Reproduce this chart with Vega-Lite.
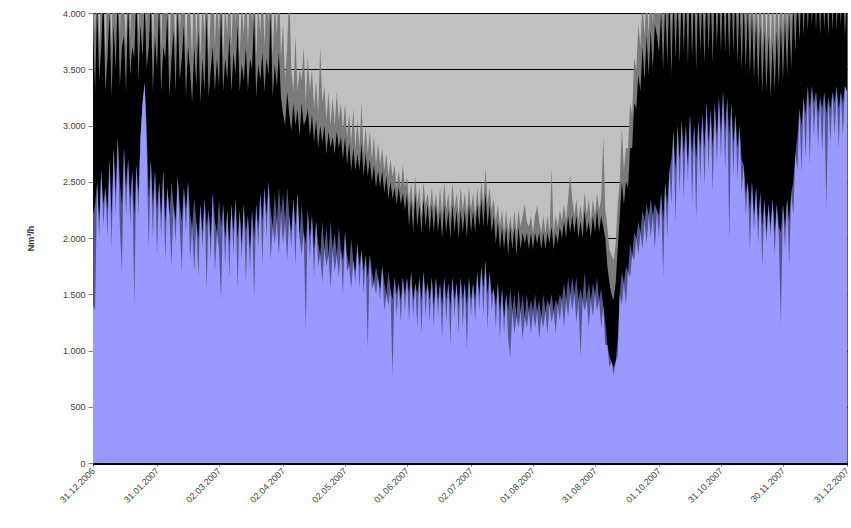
{
"$schema":"https://vega.github.io/schema/vega-lite/v6.json",
"width":754,"height":450,
"autosize":{"type":"none"},
"padding":{"left":93,"top":13,"right":4,"bottom":65},
"background":"white",
"config":{"view":{"fill":"#C0C0C0","stroke":"#606060","strokeWidth":1},"font":"Liberation Sans",
 "axisY":{"values":[0,500,1000,1500,2000,2500,3000,3500,4000],"labelExpr":"replace(format(datum.value, ','), ',', '.')",
  "grid":true,"gridColor":"#000000","gridWidth":1,"domainColor":"#808080","tickColor":"#808080","tickSize":5,
  "labelFontSize":9,"labelColor":"#444444","labelPadding":3,
  "titleFontSize":9,"titleFontWeight":"bold","titleColor":"#333333","titleX":-58,"titleY":225}},
"data":{"values":[
{"t":"2006-12-31","p":4300,"h":3900,"l":2200,"d":1400},
{"t":"2007-01-01","p":3800,"h":3300,"l":2300,"d":1360},
{"t":"2007-01-02","p":4500,"h":4100,"l":2500,"d":2500},
{"t":"2007-01-03","p":3700,"h":3400,"l":2150,"d":2000},
{"t":"2007-01-04","p":4200,"h":3700,"l":2600,"d":2600},
{"t":"2007-01-05","p":4500,"h":4200,"l":2300,"d":2100},
{"t":"2007-01-06","p":3600,"h":3300,"l":2450,"d":2450},
{"t":"2007-01-07","p":4400,"h":3600,"l":2250,"d":2000},
{"t":"2007-01-08","p":4300,"h":4000,"l":2700,"d":2700},
{"t":"2007-01-09","p":3700,"h":3250,"l":2200,"d":1900},
{"t":"2007-01-10","p":4600,"h":3900,"l":2800,"d":2800},
{"t":"2007-01-11","p":3900,"h":3500,"l":2400,"d":2200},
{"t":"2007-01-12","p":4500,"h":4200,"l":2900,"d":2900},
{"t":"2007-01-13","p":3800,"h":3350,"l":2500,"d":2100},
{"t":"2007-01-14","p":4400,"h":3700,"l":2300,"d":1700},
{"t":"2007-01-15","p":4100,"h":3800,"l":2800,"d":2800},
{"t":"2007-01-16","p":3700,"h":3300,"l":2450,"d":2200},
{"t":"2007-01-17","p":4500,"h":4100,"l":2700,"d":2700},
{"t":"2007-01-18","p":3800,"h":3450,"l":2350,"d":2100},
{"t":"2007-01-19","p":4300,"h":3700,"l":2600,"d":2600},
{"t":"2007-01-20","p":4000,"h":3600,"l":2200,"d":1400},
{"t":"2007-01-21","p":4600,"h":4200,"l":2650,"d":2650},
{"t":"2007-01-22","p":3800,"h":3400,"l":2400,"d":2200},
{"t":"2007-01-23","p":4400,"h":3900,"l":2900,"d":2900},
{"t":"2007-01-24","p":4200,"h":3600,"l":3200,"d":3200},
{"t":"2007-01-25","p":4600,"h":4100,"l":3380,"d":3380},
{"t":"2007-01-26","p":3900,"h":3500,"l":3000,"d":2800},
{"t":"2007-01-27","p":4300,"h":3700,"l":2350,"d":1900},
{"t":"2007-01-28","p":4500,"h":4100,"l":2700,"d":2700},
{"t":"2007-01-29","p":3600,"h":3300,"l":2300,"d":2000},
{"t":"2007-01-30","p":4400,"h":3800,"l":2600,"d":2600},
{"t":"2007-01-31","p":3900,"h":3500,"l":2250,"d":1850},
{"t":"2007-02-01","p":4500,"h":4100,"l":2500,"d":2500},
{"t":"2007-02-02","p":3700,"h":3300,"l":2200,"d":2000},
{"t":"2007-02-03","p":4300,"h":3700,"l":2600,"d":2600},
{"t":"2007-02-04","p":4000,"h":3600,"l":2150,"d":1800},
{"t":"2007-02-05","p":4500,"h":4000,"l":2450,"d":2450},
{"t":"2007-02-06","p":3600,"h":3250,"l":2200,"d":2200},
{"t":"2007-02-07","p":4300,"h":3600,"l":2500,"d":1750},
{"t":"2007-02-08","p":4100,"h":3850,"l":2300,"d":2300},
{"t":"2007-02-09","p":3700,"h":3300,"l":2150,"d":1950},
{"t":"2007-02-10","p":4500,"h":4050,"l":2550,"d":2550},
{"t":"2007-02-11","p":3800,"h":3400,"l":2300,"d":2100},
{"t":"2007-02-12","p":4200,"h":3600,"l":2150,"d":1700},
{"t":"2007-02-13","p":4400,"h":3900,"l":2450,"d":2450},
{"t":"2007-02-14","p":3600,"h":3250,"l":2250,"d":2050},
{"t":"2007-02-15","p":4200,"h":3700,"l":2500,"d":2500},
{"t":"2007-02-16","p":4000,"h":3500,"l":2200,"d":1800},
{"t":"2007-02-17","p":3600,"h":3200,"l":2100,"d":2100},
{"t":"2007-02-18","p":4400,"h":3700,"l":2350,"d":1700},
{"t":"2007-02-19","p":3700,"h":3350,"l":2150,"d":2150},
{"t":"2007-02-20","p":4300,"h":3850,"l":2000,"d":1650},
{"t":"2007-02-21","p":3600,"h":3200,"l":2300,"d":2300},
{"t":"2007-02-22","p":4100,"h":3600,"l":2050,"d":1900},
{"t":"2007-02-23","p":3800,"h":3300,"l":2350,"d":2350},
{"t":"2007-02-24","p":4500,"h":4000,"l":2100,"d":1550},
{"t":"2007-02-25","p":3600,"h":3250,"l":2250,"d":2250},
{"t":"2007-02-26","p":4000,"h":3500,"l":2000,"d":1800},
{"t":"2007-02-27","p":4400,"h":3700,"l":2400,"d":2400},
{"t":"2007-02-28","p":3700,"h":3300,"l":2150,"d":1700},
{"t":"2007-03-01","p":4200,"h":3600,"l":2050,"d":2050},
{"t":"2007-03-02","p":3800,"h":3350,"l":2350,"d":1900},
{"t":"2007-03-03","p":4500,"h":4050,"l":2100,"d":1450},
{"t":"2007-03-04","p":3600,"h":3300,"l":2300,"d":2300},
{"t":"2007-03-05","p":4100,"h":3600,"l":2000,"d":1750},
{"t":"2007-03-06","p":3800,"h":3400,"l":2250,"d":2250},
{"t":"2007-03-07","p":4400,"h":3800,"l":1950,"d":1650},
{"t":"2007-03-08","p":3700,"h":3300,"l":2300,"d":2300},
{"t":"2007-03-09","p":4200,"h":3650,"l":2050,"d":1850},
{"t":"2007-03-10","p":3900,"h":3450,"l":2350,"d":2350},
{"t":"2007-03-11","p":4500,"h":3900,"l":2000,"d":1550},
{"t":"2007-03-12","p":3600,"h":3300,"l":2250,"d":2250},
{"t":"2007-03-13","p":4100,"h":3550,"l":1950,"d":1800},
{"t":"2007-03-14","p":3800,"h":3400,"l":2300,"d":2300},
{"t":"2007-03-15","p":4300,"h":3700,"l":2050,"d":1600},
{"t":"2007-03-16","p":3700,"h":3300,"l":2200,"d":2200},
{"t":"2007-03-17","p":4200,"h":3600,"l":1900,"d":1700},
{"t":"2007-03-18","p":3900,"h":3500,"l":2250,"d":2250},
{"t":"2007-03-19","p":4500,"h":4000,"l":2000,"d":1450},
{"t":"2007-03-20","p":3600,"h":3250,"l":2300,"d":2300},
{"t":"2007-03-21","p":4100,"h":3550,"l":2100,"d":1900},
{"t":"2007-03-22","p":3800,"h":3400,"l":2400,"d":2400},
{"t":"2007-03-23","p":4300,"h":3650,"l":2150,"d":1750},
{"t":"2007-03-24","p":3700,"h":3300,"l":2450,"d":2450},
{"t":"2007-03-25","p":4200,"h":3600,"l":2200,"d":2000},
{"t":"2007-03-26","p":3900,"h":3450,"l":2500,"d":2500},
{"t":"2007-03-27","p":4500,"h":4000,"l":2250,"d":1800},
{"t":"2007-03-28","p":3600,"h":3250,"l":2100,"d":2100},
{"t":"2007-03-29","p":4100,"h":3550,"l":2400,"d":1950},
{"t":"2007-03-30","p":3800,"h":3350,"l":2150,"d":2150},
{"t":"2007-03-31","p":4300,"h":3650,"l":2450,"d":1850},
{"t":"2007-04-01","p":3600,"h":3250,"l":2200,"d":2200},
{"t":"2007-04-02","p":3900,"h":3100,"l":2400,"d":1950},
{"t":"2007-04-03","p":3400,"h":3000,"l":2150,"d":2150},
{"t":"2007-04-04","p":3700,"h":3300,"l":2450,"d":1800},
{"t":"2007-04-05","p":4200,"h":3100,"l":2200,"d":2200},
{"t":"2007-04-06","p":3500,"h":2950,"l":2050,"d":1900},
{"t":"2007-04-07","p":3300,"h":3200,"l":2350,"d":2350},
{"t":"2007-04-08","p":3800,"h":3000,"l":2100,"d":1750},
{"t":"2007-04-09","p":3300,"h":3150,"l":2400,"d":2400},
{"t":"2007-04-10","p":3500,"h":2900,"l":2000,"d":2000},
{"t":"2007-04-11","p":3400,"h":3200,"l":2300,"d":1850},
{"t":"2007-04-12","p":3700,"h":3000,"l":2050,"d":2050},
{"t":"2007-04-13","p":3200,"h":3050,"l":1950,"d":1180},
{"t":"2007-04-14","p":3600,"h":3150,"l":2250,"d":2250},
{"t":"2007-04-15","p":3300,"h":2900,"l":2000,"d":1800},
{"t":"2007-04-16","p":3500,"h":3100,"l":2200,"d":2200},
{"t":"2007-04-17","p":3150,"h":2850,"l":1900,"d":1650},
{"t":"2007-04-18","p":3400,"h":3050,"l":2150,"d":2150},
{"t":"2007-04-19","p":3100,"h":2800,"l":1950,"d":1750},
{"t":"2007-04-20","p":3700,"h":3000,"l":1850,"d":1850},
{"t":"2007-04-21","p":3200,"h":2850,"l":2150,"d":1600},
{"t":"2007-04-22","p":3350,"h":3000,"l":1900,"d":1900},
{"t":"2007-04-23","p":3050,"h":2750,"l":2100,"d":1750},
{"t":"2007-04-24","p":3300,"h":2950,"l":1850,"d":1850},
{"t":"2007-04-25","p":3000,"h":2800,"l":2150,"d":1550},
{"t":"2007-04-26","p":3250,"h":2900,"l":1900,"d":1900},
{"t":"2007-04-27","p":3000,"h":2750,"l":2050,"d":1700},
{"t":"2007-04-28","p":3300,"h":2950,"l":1850,"d":1850},
{"t":"2007-04-29","p":3050,"h":2800,"l":2100,"d":1650},
{"t":"2007-04-30","p":3200,"h":2900,"l":1900,"d":1900},
{"t":"2007-05-01","p":2950,"h":2700,"l":1800,"d":1500},
{"t":"2007-05-02","p":3200,"h":2900,"l":2050,"d":2050},
{"t":"2007-05-03","p":2900,"h":2650,"l":1850,"d":1700},
{"t":"2007-05-04","p":3100,"h":2850,"l":1750,"d":1750},
{"t":"2007-05-05","p":2850,"h":2600,"l":2000,"d":1550},
{"t":"2007-05-06","p":3150,"h":2800,"l":1800,"d":1800},
{"t":"2007-05-07","p":2800,"h":2600,"l":1700,"d":1600},
{"t":"2007-05-08","p":3050,"h":2750,"l":1950,"d":1950},
{"t":"2007-05-09","p":2800,"h":2600,"l":1750,"d":1550},
{"t":"2007-05-10","p":3200,"h":2850,"l":1900,"d":1900},
{"t":"2007-05-11","p":2750,"h":2550,"l":1700,"d":1500},
{"t":"2007-05-12","p":3000,"h":2750,"l":1850,"d":1850},
{"t":"2007-05-13","p":2750,"h":2550,"l":1650,"d":1020},
{"t":"2007-05-14","p":2950,"h":2700,"l":1850,"d":1850},
{"t":"2007-05-15","p":2700,"h":2500,"l":1700,"d":1550},
{"t":"2007-05-16","p":2900,"h":2650,"l":1600,"d":1600},
{"t":"2007-05-17","p":2650,"h":2450,"l":1750,"d":1500},
{"t":"2007-05-18","p":2850,"h":2600,"l":1650,"d":1650},
{"t":"2007-05-19","p":2650,"h":2450,"l":1550,"d":1450},
{"t":"2007-05-20","p":2800,"h":2600,"l":1750,"d":1750},
{"t":"2007-05-21","p":2600,"h":2400,"l":1600,"d":1350},
{"t":"2007-05-22","p":2750,"h":2550,"l":1500,"d":1500},
{"t":"2007-05-23","p":2550,"h":2350,"l":1700,"d":1400},
{"t":"2007-05-24","p":2700,"h":2500,"l":1550,"d":1550},
{"t":"2007-05-25","p":2550,"h":2350,"l":1450,"d":765},
{"t":"2007-05-26","p":2650,"h":2450,"l":1650,"d":1650},
{"t":"2007-05-27","p":2450,"h":2300,"l":1500,"d":1300},
{"t":"2007-05-28","p":2600,"h":2450,"l":1600,"d":1600},
{"t":"2007-05-29","p":2450,"h":2300,"l":1450,"d":1250},
{"t":"2007-05-30","p":2650,"h":2400,"l":1650,"d":1650},
{"t":"2007-05-31","p":2450,"h":2250,"l":1500,"d":1350},
{"t":"2007-06-01","p":2550,"h":2400,"l":1650,"d":1650},
{"t":"2007-06-02","p":2300,"h":2100,"l":1500,"d":1250},
{"t":"2007-06-03","p":2500,"h":2350,"l":1700,"d":1700},
{"t":"2007-06-04","p":2250,"h":2050,"l":1450,"d":1300},
{"t":"2007-06-05","p":2550,"h":2400,"l":1600,"d":1600},
{"t":"2007-06-06","p":2300,"h":2100,"l":1500,"d":1200},
{"t":"2007-06-07","p":2450,"h":2300,"l":1650,"d":1650},
{"t":"2007-06-08","p":2200,"h":2050,"l":1450,"d":1150},
{"t":"2007-06-09","p":2500,"h":2350,"l":1700,"d":1700},
{"t":"2007-06-10","p":2300,"h":2100,"l":1500,"d":1300},
{"t":"2007-06-11","p":2400,"h":2300,"l":1600,"d":1600},
{"t":"2007-06-12","p":2250,"h":2050,"l":1450,"d":1250},
{"t":"2007-06-13","p":2450,"h":2300,"l":1650,"d":1650},
{"t":"2007-06-14","p":2250,"h":2050,"l":1400,"d":1200},
{"t":"2007-06-15","p":2400,"h":2300,"l":1650,"d":1650},
{"t":"2007-06-16","p":2200,"h":2050,"l":1450,"d":1300},
{"t":"2007-06-17","p":2450,"h":2250,"l":1600,"d":1600},
{"t":"2007-06-18","p":2200,"h":2000,"l":1400,"d":1100},
{"t":"2007-06-19","p":2500,"h":2300,"l":1650,"d":1650},
{"t":"2007-06-20","p":2250,"h":2050,"l":1450,"d":1250},
{"t":"2007-06-21","p":2400,"h":2250,"l":1600,"d":1600},
{"t":"2007-06-22","p":2200,"h":2000,"l":1400,"d":1050},
{"t":"2007-06-23","p":2500,"h":2300,"l":1650,"d":1650},
{"t":"2007-06-24","p":2250,"h":2050,"l":1450,"d":1300},
{"t":"2007-06-25","p":2400,"h":2250,"l":1600,"d":1600},
{"t":"2007-06-26","p":2200,"h":2000,"l":1400,"d":1150},
{"t":"2007-06-27","p":2450,"h":2250,"l":1650,"d":1650},
{"t":"2007-06-28","p":2250,"h":2050,"l":1450,"d":1200},
{"t":"2007-06-29","p":2400,"h":2250,"l":1600,"d":1600},
{"t":"2007-06-30","p":2200,"h":2000,"l":1400,"d":1000},
{"t":"2007-07-01","p":2450,"h":2300,"l":1650,"d":1650},
{"t":"2007-07-02","p":2250,"h":2050,"l":1450,"d":1300},
{"t":"2007-07-03","p":2400,"h":2250,"l":1600,"d":1600},
{"t":"2007-07-04","p":2200,"h":2050,"l":1450,"d":1250},
{"t":"2007-07-05","p":2450,"h":2300,"l":1700,"d":1700},
{"t":"2007-07-06","p":2250,"h":2100,"l":1500,"d":1350},
{"t":"2007-07-07","p":2500,"h":2350,"l":1750,"d":1750},
{"t":"2007-07-08","p":2300,"h":2100,"l":1550,"d":1300},
{"t":"2007-07-09","p":2620,"h":2400,"l":1800,"d":1800},
{"t":"2007-07-10","p":2300,"h":2100,"l":1500,"d":1180},
{"t":"2007-07-11","p":2450,"h":2300,"l":1700,"d":1700},
{"t":"2007-07-12","p":2250,"h":2050,"l":1500,"d":1350},
{"t":"2007-07-13","p":2350,"h":2200,"l":1550,"d":1550},
{"t":"2007-07-14","p":2150,"h":1950,"l":1400,"d":1200},
{"t":"2007-07-15","p":2300,"h":2150,"l":1600,"d":1600},
{"t":"2007-07-16","p":2100,"h":1900,"l":1350,"d":1100},
{"t":"2007-07-17","p":2250,"h":2100,"l":1550,"d":1550},
{"t":"2007-07-18","p":2050,"h":1900,"l":1300,"d":1150},
{"t":"2007-07-19","p":2250,"h":2100,"l":1500,"d":1500},
{"t":"2007-07-20","p":2050,"h":1850,"l":1350,"d":1100},
{"t":"2007-07-21","p":2200,"h":2100,"l":1550,"d":940},
{"t":"2007-07-22","p":2050,"h":1900,"l":1350,"d":1350},
{"t":"2007-07-23","p":2250,"h":2100,"l":1500,"d":1150},
{"t":"2007-07-24","p":2050,"h":1850,"l":1300,"d":1300},
{"t":"2007-07-25","p":2250,"h":2100,"l":1550,"d":1200},
{"t":"2007-07-26","p":2100,"h":1900,"l":1350,"d":1350},
{"t":"2007-07-27","p":2200,"h":2050,"l":1500,"d":1100},
{"t":"2007-07-28","p":2300,"h":1950,"l":1300,"d":1300},
{"t":"2007-07-29","p":2150,"h":2050,"l":1500,"d":1200},
{"t":"2007-07-30","p":2100,"h":1900,"l":1350,"d":1350},
{"t":"2007-07-31","p":2200,"h":2050,"l":1450,"d":1150},
{"t":"2007-08-01","p":2050,"h":1900,"l":1350,"d":1350},
{"t":"2007-08-02","p":2200,"h":2050,"l":1500,"d":1200},
{"t":"2007-08-03","p":2290,"h":1950,"l":1350,"d":1350},
{"t":"2007-08-04","p":2150,"h":2050,"l":1450,"d":1100},
{"t":"2007-08-05","p":2050,"h":1900,"l":1300,"d":1300},
{"t":"2007-08-06","p":2200,"h":2050,"l":1500,"d":1200},
{"t":"2007-08-07","p":2050,"h":1900,"l":1350,"d":1350},
{"t":"2007-08-08","p":2200,"h":2050,"l":1450,"d":1150},
{"t":"2007-08-09","p":2050,"h":1950,"l":1400,"d":1400},
{"t":"2007-08-10","p":2620,"h":2100,"l":1500,"d":1250},
{"t":"2007-08-11","p":2050,"h":1900,"l":1350,"d":1350},
{"t":"2007-08-12","p":2200,"h":2050,"l":1450,"d":1150},
{"t":"2007-08-13","p":2100,"h":1950,"l":1400,"d":1400},
{"t":"2007-08-14","p":2250,"h":2100,"l":1500,"d":1270},
{"t":"2007-08-15","p":2150,"h":2000,"l":1450,"d":1450},
{"t":"2007-08-16","p":2300,"h":2150,"l":1600,"d":1200},
{"t":"2007-08-17","p":2150,"h":2000,"l":1450,"d":1450},
{"t":"2007-08-18","p":2350,"h":2200,"l":1650,"d":1300},
{"t":"2007-08-19","p":2560,"h":2050,"l":1500,"d":1500},
{"t":"2007-08-20","p":2350,"h":2200,"l":1650,"d":1350},
{"t":"2007-08-21","p":2200,"h":2050,"l":1500,"d":1500},
{"t":"2007-08-22","p":2350,"h":2200,"l":1650,"d":1250},
{"t":"2007-08-23","p":2150,"h":2000,"l":1450,"d":1450},
{"t":"2007-08-24","p":2300,"h":2150,"l":1550,"d":940},
{"t":"2007-08-25","p":2150,"h":2000,"l":1450,"d":1450},
{"t":"2007-08-26","p":2410,"h":2250,"l":1700,"d":1350},
{"t":"2007-08-27","p":2200,"h":2050,"l":1450,"d":1450},
{"t":"2007-08-28","p":2350,"h":2150,"l":1600,"d":1200},
{"t":"2007-08-29","p":2150,"h":2000,"l":1450,"d":1450},
{"t":"2007-08-30","p":2350,"h":2200,"l":1600,"d":1300},
{"t":"2007-08-31","p":2200,"h":2050,"l":1500,"d":1500},
{"t":"2007-09-01","p":2400,"h":2250,"l":1650,"d":1350},
{"t":"2007-09-02","p":2250,"h":2050,"l":1450,"d":1450},
{"t":"2007-09-03","p":2350,"h":2200,"l":1550,"d":1200},
{"t":"2007-09-04","p":2900,"h":2100,"l":1400,"d":1400},
{"t":"2007-09-05","p":2250,"h":2000,"l":1250,"d":1050},
{"t":"2007-09-06","p":2100,"h":1750,"l":1050,"d":1050},
{"t":"2007-09-07","p":1900,"h":1600,"l":950,"d":850},
{"t":"2007-09-08","p":1850,"h":1500,"l":900,"d":900},
{"t":"2007-09-09","p":1800,"h":1450,"l":850,"d":780},
{"t":"2007-09-10","p":1950,"h":1600,"l":900,"d":900},
{"t":"2007-09-11","p":2300,"h":1900,"l":1100,"d":950},
{"t":"2007-09-12","p":2500,"h":2200,"l":1500,"d":1500},
{"t":"2007-09-13","p":2980,"h":2500,"l":1700,"d":1400},
{"t":"2007-09-14","p":2600,"h":2300,"l":1600,"d":1600},
{"t":"2007-09-15","p":2800,"h":2500,"l":1750,"d":1400},
{"t":"2007-09-16","p":2800,"h":2450,"l":1700,"d":1700},
{"t":"2007-09-17","p":3200,"h":2800,"l":1950,"d":1650},
{"t":"2007-09-18","p":3100,"h":2800,"l":1850,"d":1850},
{"t":"2007-09-19","p":3600,"h":3200,"l":2050,"d":1800},
{"t":"2007-09-20","p":3500,"h":3150,"l":2000,"d":2000},
{"t":"2007-09-21","p":3900,"h":3450,"l":2150,"d":1850},
{"t":"2007-09-22","p":3700,"h":3300,"l":2050,"d":2050},
{"t":"2007-09-23","p":4100,"h":3700,"l":2250,"d":1900},
{"t":"2007-09-24","p":3800,"h":3400,"l":2150,"d":2150},
{"t":"2007-09-25","p":4200,"h":3800,"l":2300,"d":1950},
{"t":"2007-09-26","p":3800,"h":3450,"l":2200,"d":2200},
{"t":"2007-09-27","p":4300,"h":3850,"l":2350,"d":2000},
{"t":"2007-09-28","p":3900,"h":3500,"l":2200,"d":2200},
{"t":"2007-09-29","p":4300,"h":3900,"l":2300,"d":1900},
{"t":"2007-09-30","p":4100,"h":3800,"l":2250,"d":2250},
{"t":"2007-10-01","p":4200,"h":3650,"l":2200,"d":2000},
{"t":"2007-10-02","p":4500,"h":4000,"l":2400,"d":2400},
{"t":"2007-10-03","p":3900,"h":3500,"l":2150,"d":1650},
{"t":"2007-10-04","p":4600,"h":4100,"l":2500,"d":2500},
{"t":"2007-10-05","p":4000,"h":3550,"l":2300,"d":2000},
{"t":"2007-10-06","p":4500,"h":4200,"l":2600,"d":2600},
{"t":"2007-10-07","p":3900,"h":3450,"l":2700,"d":2300},
{"t":"2007-10-08","p":4700,"h":4200,"l":2950,"d":2950},
{"t":"2007-10-09","p":4000,"h":3600,"l":2600,"d":2130},
{"t":"2007-10-10","p":4600,"h":4150,"l":3000,"d":3000},
{"t":"2007-10-11","p":3900,"h":3550,"l":2700,"d":2400},
{"t":"2007-10-12","p":4700,"h":4250,"l":3050,"d":3050},
{"t":"2007-10-13","p":4100,"h":3650,"l":2750,"d":2340},
{"t":"2007-10-14","p":4600,"h":4200,"l":3000,"d":3000},
{"t":"2007-10-15","p":3950,"h":3550,"l":2650,"d":2500},
{"t":"2007-10-16","p":4700,"h":4300,"l":3100,"d":3100},
{"t":"2007-10-17","p":4000,"h":3600,"l":2750,"d":2300},
{"t":"2007-10-18","p":4600,"h":4200,"l":3000,"d":3000},
{"t":"2007-10-19","p":3900,"h":3500,"l":2700,"d":2160},
{"t":"2007-10-20","p":4700,"h":4250,"l":3050,"d":3050},
{"t":"2007-10-21","p":4100,"h":3650,"l":2800,"d":2500},
{"t":"2007-10-22","p":4600,"h":4150,"l":3100,"d":3100},
{"t":"2007-10-23","p":3900,"h":3550,"l":2800,"d":2450},
{"t":"2007-10-24","p":4700,"h":4250,"l":3200,"d":3200},
{"t":"2007-10-25","p":4000,"h":3650,"l":2850,"d":2600},
{"t":"2007-10-26","p":4600,"h":4200,"l":3150,"d":3150},
{"t":"2007-10-27","p":3950,"h":3550,"l":2800,"d":2400},
{"t":"2007-10-28","p":4700,"h":4300,"l":3200,"d":3200},
{"t":"2007-10-29","p":4100,"h":3700,"l":2900,"d":2650},
{"t":"2007-10-30","p":4600,"h":4200,"l":3250,"d":3250},
{"t":"2007-10-31","p":4000,"h":3650,"l":2950,"d":2700},
{"t":"2007-11-01","p":4700,"h":4300,"l":3300,"d":3300},
{"t":"2007-11-02","p":4000,"h":3650,"l":2950,"d":2600},
{"t":"2007-11-03","p":4600,"h":4200,"l":3250,"d":3250},
{"t":"2007-11-04","p":3950,"h":3600,"l":2900,"d":1980},
{"t":"2007-11-05","p":4700,"h":4250,"l":3200,"d":3200},
{"t":"2007-11-06","p":4050,"h":3650,"l":2850,"d":2550},
{"t":"2007-11-07","p":4600,"h":4200,"l":3100,"d":3100},
{"t":"2007-11-08","p":3950,"h":3550,"l":2800,"d":2500},
{"t":"2007-11-09","p":4600,"h":4150,"l":3000,"d":3000},
{"t":"2007-11-10","p":3900,"h":3500,"l":2700,"d":2400},
{"t":"2007-11-11","p":4500,"h":4100,"l":2650,"d":2650},
{"t":"2007-11-12","p":3900,"h":3500,"l":2400,"d":2200},
{"t":"2007-11-13","p":4500,"h":4050,"l":2500,"d":2500},
{"t":"2007-11-14","p":3850,"h":3450,"l":2250,"d":1880},
{"t":"2007-11-15","p":4400,"h":4000,"l":2500,"d":2500},
{"t":"2007-11-16","p":3800,"h":3400,"l":2200,"d":2050},
{"t":"2007-11-17","p":4400,"h":3950,"l":2450,"d":2450},
{"t":"2007-11-18","p":3750,"h":3350,"l":2150,"d":1950},
{"t":"2007-11-19","p":4350,"h":3900,"l":2400,"d":2400},
{"t":"2007-11-20","p":3700,"h":3300,"l":2100,"d":1740},
{"t":"2007-11-21","p":4300,"h":3850,"l":2350,"d":2350},
{"t":"2007-11-22","p":3700,"h":3300,"l":2050,"d":1950},
{"t":"2007-11-23","p":4250,"h":3800,"l":2300,"d":2300},
{"t":"2007-11-24","p":3650,"h":3250,"l":2100,"d":2000},
{"t":"2007-11-25","p":4200,"h":3750,"l":2350,"d":2350},
{"t":"2007-11-26","p":3700,"h":3300,"l":2050,"d":1850},
{"t":"2007-11-27","p":4300,"h":3850,"l":2300,"d":2300},
{"t":"2007-11-28","p":3750,"h":3350,"l":2100,"d":2000},
{"t":"2007-11-29","p":4350,"h":3900,"l":2050,"d":1230},
{"t":"2007-11-30","p":3800,"h":3400,"l":2300,"d":2300},
{"t":"2007-12-01","p":4400,"h":3950,"l":2100,"d":1900},
{"t":"2007-12-02","p":3850,"h":3450,"l":2350,"d":2350},
{"t":"2007-12-03","p":4450,"h":4000,"l":2150,"d":1760},
{"t":"2007-12-04","p":3900,"h":3500,"l":2400,"d":2400},
{"t":"2007-12-05","p":4500,"h":4100,"l":2500,"d":2200},
{"t":"2007-12-06","p":4000,"h":3650,"l":2750,"d":2750},
{"t":"2007-12-07","p":4600,"h":4200,"l":2900,"d":2600},
{"t":"2007-12-08","p":4100,"h":3750,"l":3150,"d":3150},
{"t":"2007-12-09","p":4700,"h":4250,"l":3000,"d":2580},
{"t":"2007-12-10","p":4100,"h":3800,"l":3250,"d":3250},
{"t":"2007-12-11","p":4750,"h":4300,"l":3100,"d":2700},
{"t":"2007-12-12","p":4150,"h":3850,"l":3350,"d":3350},
{"t":"2007-12-13","p":4700,"h":4250,"l":3150,"d":2650},
{"t":"2007-12-14","p":4200,"h":3900,"l":3350,"d":3350},
{"t":"2007-12-15","p":4800,"h":4350,"l":3200,"d":2900},
{"t":"2007-12-16","p":4150,"h":3850,"l":3300,"d":3300},
{"t":"2007-12-17","p":4700,"h":4300,"l":3100,"d":2800},
{"t":"2007-12-18","p":4100,"h":3800,"l":3250,"d":3250},
{"t":"2007-12-19","p":4750,"h":4350,"l":3150,"d":2750},
{"t":"2007-12-20","p":4150,"h":3850,"l":3300,"d":3300},
{"t":"2007-12-21","p":4650,"h":4250,"l":3100,"d":2250},
{"t":"2007-12-22","p":4100,"h":3800,"l":3250,"d":3250},
{"t":"2007-12-23","p":4700,"h":4300,"l":3150,"d":2850},
{"t":"2007-12-24","p":4200,"h":3850,"l":3300,"d":3300},
{"t":"2007-12-25","p":4750,"h":4350,"l":3200,"d":2900},
{"t":"2007-12-26","p":4150,"h":3850,"l":3350,"d":3350},
{"t":"2007-12-27","p":4700,"h":4250,"l":3150,"d":2800},
{"t":"2007-12-28","p":4200,"h":3900,"l":3300,"d":3300},
{"t":"2007-12-29","p":4650,"h":4300,"l":3200,"d":2900},
{"t":"2007-12-30","p":4100,"h":3800,"l":3350,"d":3350},
{"t":"2007-12-31","p":4700,"h":4200,"l":3300,"d":3300}
]},
"encoding":{
 "x":{"field":"t","type":"temporal",
  "scale":{"type":"utc","domain":[{"year":2006,"month":12,"date":31,"utc":true},{"year":2007,"month":12,"date":31,"utc":true}]},
  "axis":{"values":[
   {"year":2006,"month":12,"date":31,"utc":true},
   {"year":2007,"month":1,"date":31,"utc":true},
   {"year":2007,"month":3,"date":2,"utc":true},
   {"year":2007,"month":4,"date":2,"utc":true},
   {"year":2007,"month":5,"date":2,"utc":true},
   {"year":2007,"month":6,"date":1,"utc":true},
   {"year":2007,"month":7,"date":2,"utc":true},
   {"year":2007,"month":8,"date":1,"utc":true},
   {"year":2007,"month":8,"date":31,"utc":true},
   {"year":2007,"month":10,"date":1,"utc":true},
   {"year":2007,"month":10,"date":31,"utc":true},
   {"year":2007,"month":11,"date":30,"utc":true},
   {"year":2007,"month":12,"date":31,"utc":true}],
   "labelExpr":"utcFormat(datum.value, '%d.%m.%Y')","labelAngle":-45,"labelAlign":"right","labelBaseline":"middle",
   "labelFontSize":9,"labelColor":"#444444","labelPadding":3,"labelOverlap":false,"labelBound":false,"labelFlush":false,
   "domainColor":"#000000","domainWidth":3,"tickColor":"#555555","tickSize":3,"grid":false,"title":null}}
},
"layer":[
 {"mark":{"type":"area","color":"#7a7a7a","clip":true},
  "encoding":{"y":{"field":"p","type":"quantitative","scale":{"domain":[0,4000],"nice":false},"axis":{"title":"Nm³/h"}}}},
 {"mark":{"type":"area","color":"#000000","clip":true},
  "encoding":{"y":{"field":"h","type":"quantitative","axis":{"title":"Nm³/h"}}}},
 {"mark":{"type":"area","color":"#55558c","clip":true},
  "encoding":{"y":{"field":"l","type":"quantitative","axis":{"title":"Nm³/h"}}}},
 {"mark":{"type":"area","color":"#9999ff","clip":true},
  "encoding":{"y":{"field":"d","type":"quantitative","axis":{"title":"Nm³/h"}}}}
]
}
